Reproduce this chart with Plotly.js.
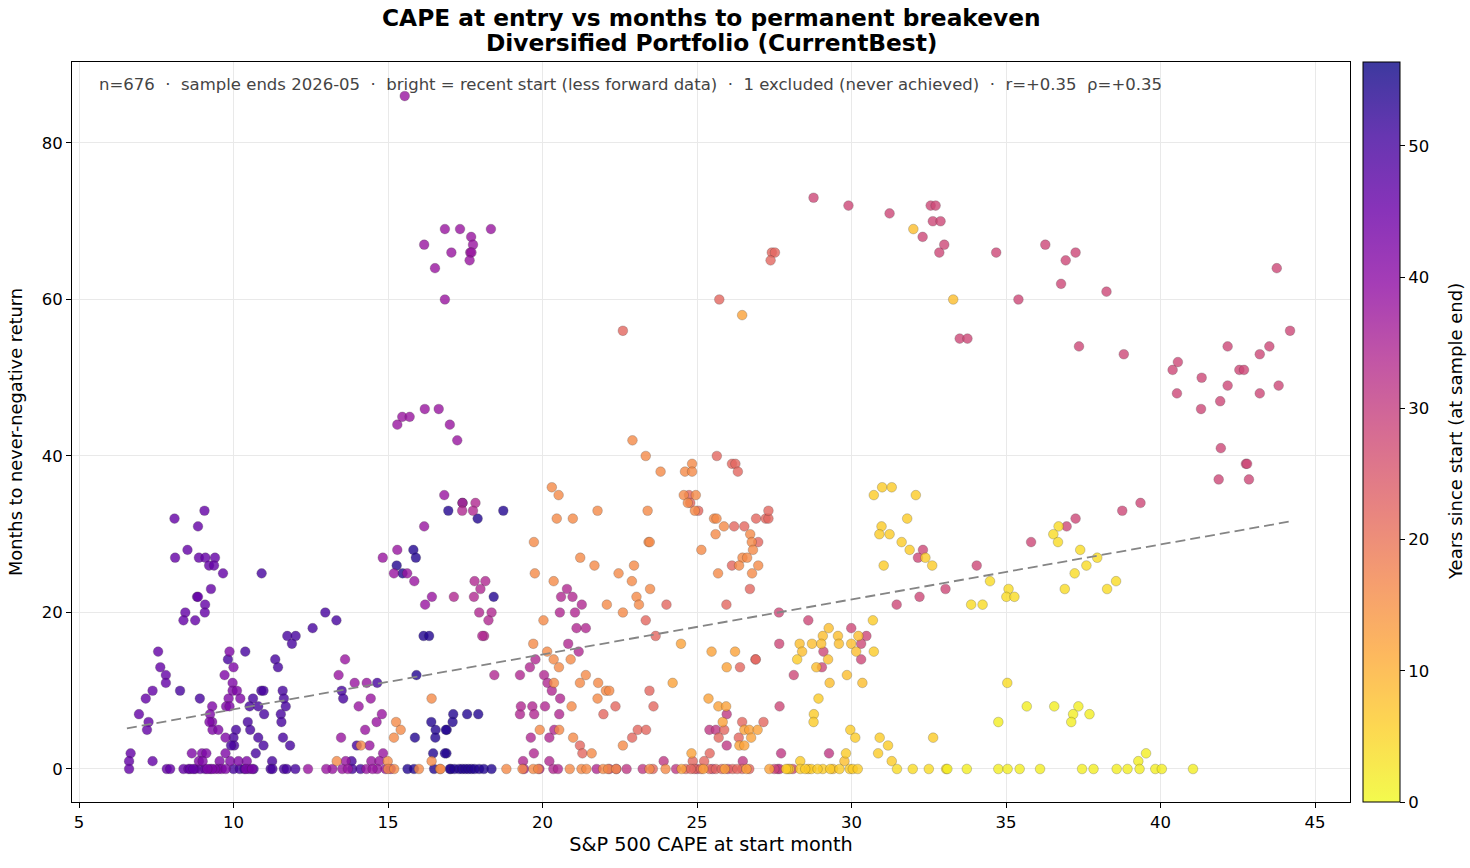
<!DOCTYPE html>
<html><head><meta charset="utf-8">
<script src="https://cdn.plot.ly/plotly-3.0.1.min.js"></script>
<style>html,body{margin:0;padding:0;background:#fff}#chart{width:1470px;height:868px}</style>
</head><body><div id="chart"></div>
<script>
// ---- data (CAPE at start, months to breakeven), grouped by start cohort ----
const capeY54 = [17.41,16.95,17.9,18.73,15.82,15.9,15.28,15.47,18.42,16.15,15.92,16.33,15.87,16.4,16.54,16.53,16.9,16.46,16.89,17.11,17.56,17.92,17.09,16.87,16.84,15.63,15.84,16.49,17.03,17.0,17.15,17.3,17.4,17.5,17.6,17.7,17.8,17.95,18.1,18.35];
const monthsY54 = [34,33,32,33,28,27,26,25,22,17,12,17,4,6,5,4,5,2,2,7,7,7,6,5,2,0,0,0,0,0,0,0,0,0,0,0,0,0,0,0];

const capeY50 = [12.97,13.33,12.56,11.74,12.01,11.89,11.35,11.44,11.59,11.63,11.69,11.53,11.55,11.6,11.83,10.91,13.5,13.55,14.65,13.99,13.82,
  8.27,8.91,10.38,9.82,10.9,10.97,10.63,10.52,10.8,10.99,10.46,10.54,10.8,10.97,10.72,11.25,10.08,10.0,10.02,9.92,
  10.0,10.2,10.35,10.5,10.65,11.2,11.26,11.63,11.72,13.84,14.11,12.0];
const monthsY50 = [20,19,18,17,17,16,14,13,10,9,8,7,6,4,3,25,10,9,11,3,1,
  10,9,15,14,10,10,9,8,8,7,6,5,4,3,2,1,5,4,3,3,
  0,0,0,0,0,0,0,0,0,0,0,0];

const capeY46 = [8.09,9.06,8.85,8.51,8.11,8.88,9.09,9.4,9.21,9.37,9.66,9.27,8.82,8.85,9.08,8.44,9.07,8.38,8.76,7.56,7.63,7.81,7.81,7.38,7.16,6.94,7.25,7.2,6.67,6.62,6.62,7.38,
  7.84,7.95,8.38,8.54,8.76,8.92,9.08,9.24,8.6,8.7];
const monthsY46 = [32,33,31,28,27,27,27,27,26,26,25,23,22,22,21,20,20,19,19,15,13,12,11,10,9,7,6,5,2,1,0,1,
  0,0,0,0,0,0,0,0,0,0];

const capeY42 = [9.87,10.0,9.71,9.97,9.97,10.11,9.84,10.22,9.31,9.76,9.87,9.24,9.31,9.22,9.32,9.51,9.74,9.74,8.65,8.98,9.12,8.88,9.55,9.89,10.16,10.43,9.0,
  9.51,9.62,9.75,9.4,9.3,9.15,10.4,10.6];
const monthsY42 = [15,13,12,11,10,10,9,9,8,8,8,7,6,6,5,5,4,2,2,2,2,1,1,1,1,1,1,
  0,0,0,0,0,0,0,0];

const capeY38 = [15.54,16.84,17.33,18.33,17.69,17.75,16.17,17.05,17.66,17.7,17.64,16.52,16.84,15.3,15.46,15.7,16.19,16.64,17.0,17.24,16.82,16.17,15.3,14.83,15.19,15.62,15.85,16.2,16.42,
  13.61,13.4,13.92,14.31,14.44,14.05,14.8,14.63,14.26,13.48,14.4,14.84,14.46,14.72,13.63,
  12.41,13.2,13.52,14.65,14.92,15.09,13.0,13.7,14.3,14.5];
const monthsY38 = [86,69,69,69,68,67,67,66,66,66,65,64,60,44,45,45,46,46,44,42,35,31,28,27,25,25,24,21,22,
  14,12,11,11,9,8,7,6,5,4,3,2,1,1,1,
  0,0,0,0,0,0,0,0,0,0];

const capeY34 = [17.41,17.83,17.4,17.75,17.8,18.15,17.99,17.13,17.78,17.95,18.35,18.25,18.11,18.05,18.44,
  19.27,19.67,19.3,19.73,20.08,19.59,19.77,19.27,20.05,20.16,20.3,20.57,20.54,20.38,20.22,19.62,19.72,19.37,20.22,20.83,21.17,20.56,21.05,21.1,21.4,21.27,20.79,20.6,20.97,
  20.35,20.5,21.75,19.4,19.9];
const monthsY34 = [34,34,33,33,24,24,23,22,22,20,20,19,17,17,12,
  7,8,8,7,8,13,14,12,12,11,10,9,7,5,4,4,2,1,1,16,15,20,20,18,18,21,23,22,22,
  0,0,0,0,0];

const capeY31 = [25.96,25.4,25.61,25.96,23.92,26.48,27.72,29.27,
  22.16,22.39,22.72,23.24,24.32,27.61,27.67,25.0,25.5,26.0];
const monthsY31 = [7,5,5,3,1,1,2,2,
  0,0,0,0,0,0,0,0,0,0];

const capeY28 = [28.77,29.9,31.23,32.56,32.72,32.63,32.88,32.3,33.0,32.84,34.68,36.27,37.25,36.93,43.76,36.78,38.25,35.4,
  33.5,33.75,37.36,38.81,44.19,42.17,43.52,43.21,40.56,40.39,42.55,42.7,41.33,42.17,43.82,40.53,43.21,41.93,41.31,41.95,42.76,42.8,41.88,42.86,39.35,38.76,37.25,36.96,35.81,34.05,33.04,
  32.31,32.15,31.46,32.2,29.99,30.48,28.6,27.65,
  30.31,29.09,30.31,29.04,28.13,27.67,27.66,
  27.5,28.1];
const monthsY28 = [73,72,71,72,72,70,70,68,67,66,66,67,66,65,64,62,61,60,
  55,55,54,53,56,54,54,53,52,51,51,51,50,49,49,48,48,47,46,41,39,39,37,37,34,33,32,31,29,26,23,
  28,27,21,22,18,17,19,20,
  16,15,14,13,12,8,16,
  0,0];

const capeY22 = [25.72,22.6,27.42,27.52,27.38,
  25.64,26.13,26.24,26.32,24.74,24.78,25.04,26.2,26.53,26.91,27.22,27.31,27.31,26.98,26.13,26.71,24.01,25.95,23.34,23.66,
  23.46,23.59,22.36,26.39,26.89,26.9,27.15,26.46,25.88,25.7,26.35,23.08,23.35,22.9,25.41,24.86,25.23,21.97,21.21,21.29,
  23.57,24.64,24.91,25.13,25.4,25.61,26.15,26.46,26.69,25.8,26.3,24.8];
const monthsY22 = [60,56,66,66,65,
  40,39,39,38,35,34,33,31,31,32,32,32,33,29,26,23,21,21,19,17,
  10,8,8,13,14,14,6,6,5,4,4,5,5,4,2,1,1,7,3,2,
  0,0,0,0,0,0,0,0,0,0,0,0];

const capeY16 = [22.91,23.34,23.82,20.3,20.52,24.84,24.61,24.84,24.57,24.96,24.7,24.93,21.78,23.4,20.46,20.98,25.55,25.63,25.87,25.6,26.72,26.77,23.43,23.47,19.72,25.14,26.81,26.47,26.62,21.22,26.36,26.98,21.68,22.96,19.75,22.46,25.68,26.78,20.36,22.89,23.48,23.04,22.08,23.12,22.6,20.03,
  15.26,15.41,15.19,16.41,14.12,13.34,14.99,16.41,
  19.7,20.15,20.36,20.53,20.37,19.91,20.54,20.91,21.4,21.21,21.8,22.05,21.78,20.94,20.99,21.59,22.16,22.6,
  16.0,16.68,16.7,18.83,19.35,19.7,19.86,20.88,21.26,21.42,21.96,22.12,22.38,23.46,23.98,15.0,15.2];
const monthsY16 = [42,40,38,36,35,39,38,38,35,35,34,33,33,33,32,32,32,32,31,30,30,29,29,29,29,28,28,27,27,27,26,26,26,26,25,25,25,25,24,24,23,22,21,21,20,19,
  6,5,4,9,3,1,1,1,
  16,15,14,13,11,5,5,14,12,11,11,10,9,8,4,2,10,3,
  0,0,0,0,0,0,0,0,0,0,0,0,0,0,0,0,0];

const capeY12 = [26.46,24.21,24.48,25.47,26.23,25.96,25.37,25.69,25.94,25.83,26.53,26.69,26.96,26.75,26.37,26.53,24.82,
  27.34,24.5,25.2,25.9,26.6];
const monthsY12 = [58,11,16,15,15,13,9,8,8,6,5,5,5,4,3,3,2,
  0,0,0,0,0];

const capeY8 = [32.0,33.29,
  29.26,30.22,29.07,29.56,28.32,28.72,29.02,29.59,29.99,28.4,30.15,29.24,28.86,29.85,29.29,30.35,29.77,
  28.0,28.6,29.4];
const monthsY8 = [69,60,
  18,17,17,17,16,16,16,16,16,15,15,14,13,12,11,11,1,
  0,0,0];

const capeY6 = [30.72,30.99,31.3,32.08,31.8,30.97,30.9,31.23,31.62,31.88,32.39,32.61,31.04,
  30.69,30.72,28.24,
  28.93,28.78,28.77,29.96,30.12,30.91,31.18,31.3,32.64,28.34,29.82,30.86,
  27.94,27.88,28.34,28.7,29.07,29.31,29.61,29.94,30.04,30.2,28.5,28.9];
const monthsY6 = [35,36,36,35,32,31,30,30,29,28,27,26,26,
  19,15,14,
  9,7,6,5,4,4,3,1,4,1,2,2,
  0,0,0,0,0,0,0,0,0,0,0,0];

const capeY4 = [36.7,36.53,36.68,37.4,37.95,37.6,37.22,38.56,38.27,36.9,34.48,35.08,35.01,35.27,33.87,34.24,35.04,
  31.47,31.98,32.5,33.06];
const monthsY4 = [31,30,29,28,27,26,25,24,23,23,24,23,22,22,21,21,11,
  0,0,0,0];

const capeY1 = [34.75,35.67,36.56,37.34,37.17,37.11,37.7,39.53,39.28,
  33.1,33.73,34.75,35.05,35.44,36.1,37.46,37.83,38.58,38.93,39.32,39.83,40.04,41.05];
const monthsY1 = [6,8,8,8,7,6,7,2,1,
  0,0,0,0,0,0,0,0,0,0,0,0,0,0];

const cohortYears = [54,50,46,42,38,34,31,28,22,16,12,8,6,4,1.5];
const cohortCape = [capeY54,capeY50,capeY46,capeY42,capeY38,capeY34,capeY31,capeY28,capeY22,capeY16,capeY12,capeY8,capeY6,capeY4,capeY1];
const cohortMonths = [monthsY54,monthsY50,monthsY46,monthsY42,monthsY38,monthsY34,monthsY31,monthsY28,monthsY22,monthsY16,monthsY12,monthsY8,monthsY6,monthsY4,monthsY1];

// dashed OLS trend, endpoints
const trendCape = [6.55, 44.29];
const trendMonths = [5.2, 31.7];

const colorbarTicks = [0,10,20,30,40,50];
const titleLines = ['CAPE at entry vs months to permanent breakeven', 'Diversified Portfolio (CurrentBest)'];
const colorbarLabel = 'Years since start (at sample end)';
const infoText = 'n=676\u00a0\u00a0·\u00a0\u00a0sample ends 2026-05\u00a0\u00a0·\u00a0\u00a0bright = recent start (less forward data)\u00a0\u00a0·\u00a0\u00a01 excluded (never achieved)\u00a0\u00a0·\u00a0\u00a0r=+0.35\u00a0\u00a0ρ=+0.35';

// ---- build ----
const xs=[], ys=[], cs=[];
cohortCape.forEach((arr,g)=>{ arr.forEach((c,i)=>{ xs.push(c); ys.push(cohortMonths[g][i]); cs.push(cohortYears[g]); }); });

const plasma = ['#0d0887','#41049d','#6a00a8','#8f0da4','#b12a90','#cc4778','#e16462','#f2844b','#fca636','#fcce25','#f0f921'];
const rev = plasma.slice().reverse();
function blend(hex,a){
  const r=parseInt(hex.slice(1,3),16), g=parseInt(hex.slice(3,5),16), b=parseInt(hex.slice(5,7),16);
  const f=v=>Math.round(a*v+(1-a)*255);
  return 'rgb('+f(r)+','+f(g)+','+f(b)+')';
}
const scaleMarkers = rev.map((c,i)=>[i/10,c]);
const scaleBar = rev.map((c,i)=>[i/10,blend(c,0.8)]);
const FONT = 'DejaVu Sans, Liberation Sans, sans-serif';

const traces = [
  {type:'scatter', mode:'markers', x:xs, y:ys, showlegend:false, hoverinfo:'x+y',
   marker:{color:cs, coloraxis:'coloraxis', size:9.7, opacity:0.8, line:{color:'rgba(40,40,40,0.55)', width:0.5}}},
  {type:'scatter', mode:'lines', x:trendCape, y:trendMonths, showlegend:false, hoverinfo:'skip',
   line:{color:'#858585', width:1.8, dash:'10px,5px'}},
  {type:'scatter', mode:'markers', x:[-100], y:[-100], showlegend:false, hoverinfo:'skip',
   marker:{color:[0], coloraxis:'coloraxis2', size:1}}
];

const layout = {
  width:1470, height:868,
  margin:{l:72, r:120, t:62, b:66},
  paper_bgcolor:'#fff', plot_bgcolor:'#fff',
  font:{family:FONT, color:'#000', size:16},
  xaxis:{range:[4.773,46.13], tickvals:[5,10,15,20,25,30,35,40,45], showgrid:true, gridcolor:'#e9e9e9', gridwidth:1,
    zeroline:false, showline:true, mirror:true, linecolor:'#000', linewidth:1, ticks:'outside', ticklen:5, tickwidth:1, tickcolor:'#000',
    tickfont:{size:16.5}, title:{text:'S&P 500 CAPE at start month', font:{size:19.3}, standoff:6}},
  yaxis:{range:[-4.22,90.35], tickvals:[0,20,40,60,80], showgrid:true, gridcolor:'#e9e9e9', gridwidth:1,
    zeroline:false, showline:true, mirror:true, linecolor:'#000', linewidth:1, ticks:'outside', ticklen:5, tickwidth:1, tickcolor:'#000',
    tickfont:{size:16.5}, title:{text:'Months to never-negative return', font:{size:17.8}, standoff:14}},
  coloraxis:{colorscale:scaleMarkers, cmin:0, cmax:56.4, showscale:false},
  coloraxis2:{colorscale:scaleBar, cmin:0, cmax:56.4, showscale:true,
    colorbar:{x:1.0102, xanchor:'left', y:0.5, yanchor:'middle', len:1, lenmode:'fraction', thickness:37, thicknessmode:'pixels',
      xpad:0, ypad:0, outlinewidth:1, outlinecolor:'#000', ticks:'outside', ticklen:5, tickwidth:1, tickcolor:'#000',
      tickvals:colorbarTicks, tickfont:{size:16.5, family:FONT}}},
  annotations:[
    {text:'<b>'+titleLines[0]+'</b>', xref:'paper', yref:'paper', x:0.5, y:1.0608, xanchor:'center', yanchor:'middle',
     showarrow:false, font:{size:23.3, color:'#000', family:FONT}},
    {text:'<b>'+titleLines[1]+'</b>', xref:'paper', yref:'paper', x:0.5, y:1.027, xanchor:'center', yanchor:'middle',
     showarrow:false, font:{size:23.3, color:'#000', family:FONT}},
    {text:colorbarLabel, xref:'paper', yref:'paper', x:1.0822, y:0.5, xanchor:'center', yanchor:'middle', textangle:-90,
     showarrow:false, font:{size:18, color:'#000', family:FONT}},
    {text:infoText, xref:'paper', yref:'paper', x:0.0194, y:0.970, xanchor:'left', yanchor:'middle',
     showarrow:false, font:{size:16.5, color:'#444', family:FONT}}]
};

Plotly.newPlot('chart', traces, layout, {staticPlot:true, displayModeBar:false});
</script>
</body></html>
